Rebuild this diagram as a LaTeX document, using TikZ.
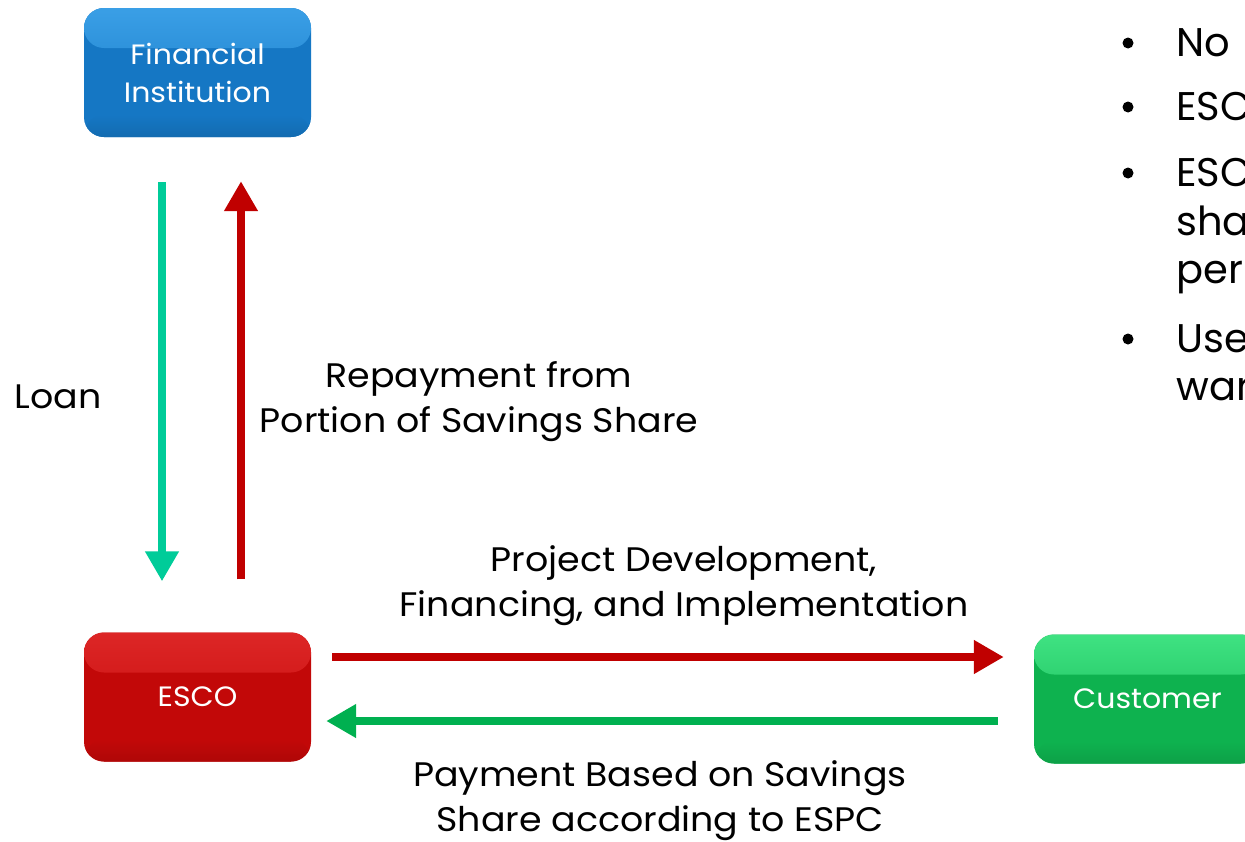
\documentclass[tikz,border=0pt]{standalone}
\usepackage{fontspec}
\setmainfont{Poppins}[FakeStretch=1.07]
\newfontfamily\bulfont{Poppins}
\usetikzlibrary{arrows.meta,calc}
\definecolor{fiblue}{HTML}{1577C4}
\definecolor{fitop}{HTML}{3A9FE6}
\definecolor{escored}{HTML}{C20808}
\definecolor{escotop}{HTML}{DD2626}
\definecolor{custgreen}{HTML}{0EB24F}
\definecolor{custtop}{HTML}{3FE282}
\definecolor{loanteal}{HTML}{00CC99}
\definecolor{arrred}{HTML}{C00000}
\definecolor{paygreen}{HTML}{00B050}
\tikzset{
  box/.style={rounded corners=20pt, minimum width=227pt, minimum height=129pt,
    inner sep=0pt, align=center, text=white, font=\fontsize{28}{38}\selectfont,
    fill=#1,
    path picture={
      \shade[top color=#1top, bottom color=#1] (path picture bounding box.north west) rectangle ($(path picture bounding box.north east)+(0,40)$);
      \shade[top color=#1, bottom color=#1!90!black] ($(path picture bounding box.south west)+(0,-22)$) rectangle (path picture bounding box.south east);
    }},
  fatarrow/.style={line width=8pt, -{Triangle[width=32pt,length=30pt]}},
  lbl/.style={font=\fontsize{34}{45}\selectfont, align=center, inner sep=0pt},
  bul/.style={font=\bulfont\fontsize{40}{48}\selectfont, anchor=base west, inner sep=0pt},
  dot/.style={circle, fill=black, minimum size=11pt, inner sep=0pt},
}
\colorlet{fibluetop}{fitop}
\colorlet{escoredtop}{escotop}
\colorlet{custgreentop}{custtop}
\begin{document}
\begin{tikzpicture}[x=1pt,y=-1pt]
\useasboundingbox (0,0) rectangle (1245,841);
\clip (0,0) rectangle (1245,841);
\fill[white] (0,0) rectangle (1245,841);
% boxes
\node[box=fiblue] (FI) at (197.5,72.5) {Financial\\Institution};
\node[box=escored] (ESCO) at (197.5,697) {ESCO};
\node[box=custgreen] (CUST) at (1147.5,699) {Customer};
% vertical arrows
\draw[fatarrow, loanteal] ($(FI.south)+(-35.5,45)$) coordinate (loanA) -- ($(ESCO.north)+(-35.5,-51)$) coordinate (loanB);
\draw[fatarrow, arrred] ($(ESCO.north)+(43.5,-53)$) coordinate (repA) -- ($(FI.south)+(43.5,44)$) coordinate (repB);
% horizontal arrows
\draw[fatarrow, arrred] ($(ESCO.east)+(21,-40)$) coordinate (prjA) -- ($(CUST.west)+(-30,-42)$) coordinate (prjB);
\draw[fatarrow, paygreen] ($(CUST.west)+(-36,22)$) coordinate (payA) -- ($(ESCO.east)+(15,24)$) coordinate (payB);
% labels
\node[lbl] (loanlbl) at (58,397) {Loan};
\node[lbl] (replbl) at (479,402) {Repayment from\\Portion of Savings Share};
\node[lbl] (prjlbl) at (684,586) {Project Development,\\Financing, and Implementation};
\node[lbl] (paylbl) at (660,801) {Payment Based on Savings\\Share according to ESPC};
% bullets
\node[dot] (b1) at (1128,43) {};
\node[bul] (t1) at (1176,56) {No};
\node[dot] (b2) at (1128,107) {};
\node[bul] (t2) at (1176,120) {ESCO};
\node[dot] (b3) at (1128,173) {};
\node[bul] (t3) at (1176,186) {ESCO};
\node[bul] (t3b) at (1176,235) {shar};
\node[bul] (t3c) at (1176,283) {per};
\node[dot] (b4) at (1128,339) {};
\node[bul] (t4) at (1176,352) {Use};
\node[bul] (t4b) at (1176,400) {war};
\end{tikzpicture}
\end{document}
